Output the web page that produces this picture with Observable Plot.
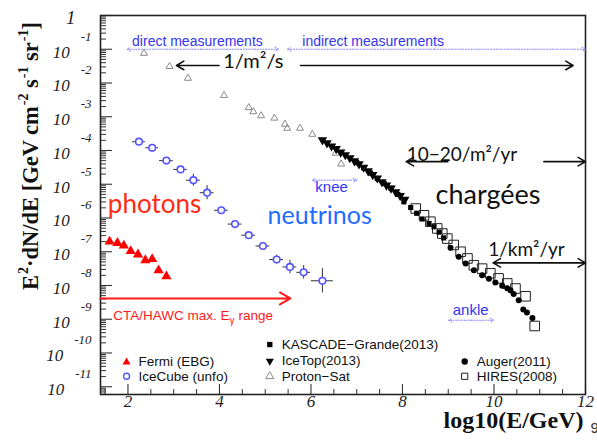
<!DOCTYPE html>
<html><head><meta charset="utf-8">
<script src="https://cdn.jsdelivr.net/npm/d3@7"></script>
<script src="https://cdn.jsdelivr.net/npm/@observablehq/plot@0.6"></script>
<style>html,body{margin:0;padding:0;background:#fff;} svg{display:block}</style>
</head><body><div id="chart"></div>
<script>
// ---- data (x = log10(E/GeV), y = log10 of E^2 dN/dE) ----
const fermiX = [1.60, 1.77, 1.91, 2.06, 2.22, 2.38, 2.53, 2.67, 2.84];
const fermiLogY = [-6.70, -6.74, -6.82, -6.98, -7.08, -7.25, -7.22, -7.55, -7.73];

const iceCubeX = [2.24, 2.53, 2.84, 3.15, 3.43, 3.73, 4.04, 4.34, 4.64, 4.95, 5.25, 5.54, 5.84, 6.25];
const iceCubeLogY = [-3.74, -3.92, -4.30, -4.56, -4.88, -5.25, -5.77, -6.18, -6.51, -6.83, -7.23, -7.45, -7.61, -7.86];
const iceCubeXErr = [0.14, 0.14, 0.15, 0.15, 0.15, 0.15, 0.15, 0.15, 0.15, 0.15, 0.15, 0.15, 0.15, 0.24];
const iceCubeYErr = [0, 0, 0, 0, 0.18, 0.21, 0, 0, 0, 0, 0.13, 0.20, 0.20, 0.36];

const protonX = [2.35, 2.91, 3.31, 4.10, 4.64, 4.74, 4.91, 5.20, 5.43, 5.48, 5.76, 6.03, 6.54, 6.66];
const protonLogY = [-1.12, -1.51, -1.86, -2.37, -2.73, -2.85, -2.97, -3.04, -3.22, -3.34, -3.34, -3.52, -4.08, -4.40];

const iceTopX = [6.25, 6.35, 6.45, 6.55, 6.65, 6.75, 6.85, 6.95, 7.05, 7.15, 7.25, 7.35, 7.45, 7.55, 7.65, 7.75, 7.85, 7.95, 8.05];
const iceTopLogY = [-3.69, -3.78, -3.87, -3.95, -4.05, -4.13, -4.22, -4.31, -4.40, -4.50, -4.61, -4.72, -4.82, -4.93, -5.03, -5.12, -5.23, -5.34, -5.45];

const kascadeX = [7.00, 7.15, 7.30, 7.45, 7.60, 7.75, 7.90, 8.03, 8.18, 8.31, 8.43, 8.58, 8.69, 8.80, 8.90];
const kascadeLogY = [-4.36, -4.51, -4.67, -4.83, -4.98, -5.12, -5.30, -5.52, -5.69, -5.86, -6.03, -6.16, -6.26, -6.42, -6.59];

const augerX = [9.05, 9.23, 9.38, 9.56, 9.74, 9.89, 10.03, 10.18, 10.29, 10.36, 10.43, 10.54, 10.64, 10.72, 10.84];
const augerLogY = [-6.88, -7.15, -7.35, -7.55, -7.70, -7.80, -7.91, -8.01, -8.08, -8.14, -8.25, -8.44, -8.71, -8.80, -8.96];

const hiresX = [8.29, 8.47, 8.61, 8.76, 8.87, 8.98, 9.12, 9.27, 9.42, 9.56, 9.74, 9.92, 10.10, 10.29, 10.47, 10.69, 10.89];
const hiresLogY = [-5.72, -5.92, -6.11, -6.31, -6.46, -6.61, -6.80, -7.00, -7.20, -7.40, -7.50, -7.64, -7.79, -7.94, -8.09, -8.32, -9.20];

const xTickValues = [2, 4, 6, 8, 10, 12];
const xTickLabels = ["2", "4", "6", "8", "10", "12"];
const yTickExponents = [-1, -2, -3, -4, -5, -6, -7, -8, -9, -10, -11];

const legendLabels = ["Fermi (EBG)", "IceCube (unfo)", "KASCADE\u2212Grande(2013)", "IceTop(2013)", "Proton\u2212Sat", "Auger(2011)", "HIRES(2008)"];

// ---- helpers ----
const toPts = (xs, ls) => xs.map((x, i) => ({x, y: Math.pow(10, ls[i])}));
const fermi = toPts(fermiX, fermiLogY);
const proton = toPts(protonX, protonLogY);
const iceTop = toPts(iceTopX, iceTopLogY);
const kascade = toPts(kascadeX, kascadeLogY);
const auger = toPts(augerX, augerLogY);
const hires = toPts(hiresX, hiresLogY);
const iceCube = iceCubeX.map((x, i) => ({
  x, y: Math.pow(10, iceCubeLogY[i]),
  x1: x - iceCubeXErr[i], x2: x + iceCubeXErr[i],
  y1: Math.pow(10, iceCubeLogY[i] - iceCubeYErr[i]), y2: Math.pow(10, iceCubeLogY[i] + iceCubeYErr[i]),
  ye: iceCubeYErr[i]
}));

const triDown = {
  draw(ctx, size) {
    const s3 = Math.sqrt(3);
    const y = -Math.sqrt(size / (s3 * 3));
    ctx.moveTo(0, -2 * y);
    ctx.lineTo(-s3 * y, y);
    ctx.lineTo(s3 * y, y);
    ctx.closePath();
  }
};

const W = 597, H = 440, mL = 100, mR = 12, mT = 15, mB = 46;
const fw = W - mL - mR, fh = H - mT - mB;
const L = (v) => Math.pow(10, v);

const yMajor = [0, ...yTickExponents].map(L);
const yMinor = [];
for (let e = -12; e < 0; e++) for (let m = 2; m <= 9; m++) {
  const v = m * Math.pow(10, e);
  if (v > L(-11.23) && v < 1) yMinor.push(v);
}
const xMinor = d3.range(1.5, 12, 0.5).filter(v => !xTickValues.includes(v));

const serif = "Liberation Serif";
const sans = "Liberation Sans";
const gill = "Lato";
const blue = "#3434f2", dotBlue = "#8585ff";

const dottedArrows = [
  {x1: 3.6, x2: 1.98, y: L(-1.0)}, {x1: 3.6, x2: 5.29, y: L(-1.0)},
  {x1: 8.7, x2: 5.49, y: L(-1.0)}, {x1: 8.7, x2: 12.0, y: L(-1.0)},
  {x1: 6.5, x2: 6.03, y: L(-4.88)}, {x1: 6.5, x2: 7.0, y: L(-4.88)},
  {x1: 9.5, x2: 9.01, y: L(-9.03)}, {x1: 9.5, x2: 9.99, y: L(-9.03)}
];
const blackArrows = [
  {x1: 3.99, x2: 3.06, y: L(-1.48)}, {x1: 5.77, x2: 11.73, y: L(-1.48)},
  {x1: 8.99, x2: 8.08, y: L(-4.33)}, {x1: 11.09, x2: 12.0, y: L(-4.33)},
  {x1: 11.0, x2: 9.98, y: L(-7.33)}, {x1: 11.0, x2: 12.0, y: L(-7.33)}
];

// legend placement (data coordinates)
const legCol = [1.97, 1.97, 5.10, 5.10, 5.10, 9.36, 9.36];
const legRow = [-10.27, -10.69, -9.75, -10.24, -10.69, -10.25, -10.69];
const leg = legendLabels.map((t, i) => ({t, x: legCol[i], y: L(legRow[i])}));

const plot = Plot.plot({
  width: W, height: H,
  marginLeft: mL, marginRight: mR, marginTop: mT, marginBottom: mB,
  x: {domain: [1.4, 12], axis: null},
  y: {type: "log", domain: [L(-11.23), 1], axis: null},
  style: {background: "#fff", fontFamily: sans, overflow: "visible"},
  marks: [
    // ticks
    Plot.tickY(yMajor, {y: d => d, insetRight: fw - 12, stroke: "#333", strokeWidth: 1.1}),
    Plot.tickY(yMinor, {y: d => d, insetRight: fw - 6, stroke: "#333", strokeWidth: 1}),
    Plot.tickX(xTickValues, {x: d => d, insetTop: fh - 10, stroke: "#333", strokeWidth: 1.1}),
    Plot.tickX(xMinor, {x: d => d, insetTop: fh - 5, stroke: "#333", strokeWidth: 1}),
    Plot.frame({stroke: "#222", strokeWidth: 1.6}),
    // tick labels
    Plot.text(yTickExponents, {y: e => L(e), text: e => `10^{${e}}`, frameAnchor: "left", textAnchor: "end", dx: -9, dy: 3,
      fontFamily: serif, fontStyle: "italic", fontSize: 17, fill: "#222"}),
    Plot.text(["1"], {y: () => 1, text: d => d, frameAnchor: "left", textAnchor: "end", dx: -25, dy: 2,
      fontFamily: serif, fontStyle: "italic", fontSize: 19, fill: "#222"}),
    Plot.text(xTickValues, {x: d => d, text: (d, i) => xTickLabels[i], frameAnchor: "bottom", dy: 12,
      fontFamily: serif, fontStyle: "italic", fontSize: 17, fill: "#222"}),
    // axis titles
    Plot.text(["E^{2}\u00b7dN/dE [GeV cm^{-2} s^{-1} sr^{-1}]"], {frameAnchor: "left", textAnchor: "middle", dx: -70, dy: -49, rotate: -90,
      fontFamily: serif, fontWeight: "bold", fontSize: 22.5, fill: "#111"}),
    Plot.text(["log10(E/GeV)"], {frameAnchor: "bottom-right", textAnchor: "end", dx: -2, dy: 33,
      fontFamily: serif, fontWeight: "bold", fontSize: 24, fill: "#111"}),
    Plot.text(["9"], {frameAnchor: "bottom-right", textAnchor: "start", dx: 5, dy: 38, fontSize: 15, fill: "#333"}),
    // annotation arrows
    Plot.arrow(dottedArrows, {x1: "x1", x2: "x2", y1: "y", y2: "y", bend: 0, headLength: 6, stroke: dotBlue, strokeWidth: 1, strokeDasharray: "1.2,1.6"}),
    Plot.arrow(blackArrows, {x1: "x1", x2: "x2", y1: "y", y2: "y", bend: 0, headLength: 8, stroke: "#111", strokeWidth: 1.6}),
    Plot.arrow([{x1: 1.4, x2: 5.55, y: L(-8.385)}], {x1: "x1", x2: "x2", y1: "y", y2: "y", bend: 0, headLength: 9, stroke: "#ff1a1a", strokeWidth: 2}),
    // annotation texts
    Plot.text(["direct measurements"], {x: 2.09, y: L(-0.77), text: d => d, textAnchor: "start", fontSize: 14, fill: blue}),
    Plot.text(["indirect measurements"], {x: 5.81, y: L(-0.77), text: d => d, textAnchor: "start", fontSize: 14, fill: blue}),
    Plot.text(["1/m\u00b2/s"], {x: 4.74, y: L(-1.365), text: d => d, fontFamily: gill, fontSize: 20, fill: "#111"}),
    Plot.text(["10\u221220/m\u00b2/yr"], {x: 9.30, y: L(-4.13), text: d => d, fontFamily: gill, fontSize: 19, fill: "#111"}),
    Plot.text(["chargées"], {x: 9.87, y: L(-5.32), text: d => d, fontFamily: gill, fontSize: 27, fill: "#111"}),
    Plot.text(["knee"], {x: 6.45, y: L(-5.09), text: d => d, fontSize: 15, fill: blue}),
    Plot.text(["neutrinos"], {x: 6.19, y: L(-5.94), text: d => d, fontFamily: gill, fontSize: 25, fill: "#1f6cff"}),
    Plot.text(["photons"], {x: 2.58, y: L(-5.62), text: d => d, fontFamily: gill, fontSize: 26, fill: "#ff2a14"}),
    Plot.text(["1/km\u00b2/yr"], {x: 10.71, y: L(-6.95), text: d => d, fontFamily: gill, fontSize: 19, fill: "#111"}),
    Plot.text(["ankle"], {x: 9.49, y: L(-8.73), text: d => d, fontSize: 15, fill: blue}),
    Plot.text(["CTA/HAWC max. E_{\u03b3} range"], {x: 1.68, y: L(-8.88), text: d => d, textAnchor: "start", fontSize: 13.5, fill: "#ff1a1a"}),
    // data
    Plot.dot(proton, {x: "x", y: "y", symbol: "triangle", r: 2.6, stroke: "#8a8a8a", strokeWidth: 1, fill: "none"}),
    Plot.ruleY(iceCube, {y: "y", x1: "x1", x2: "x2", stroke: "#333", strokeWidth: 1}),
    Plot.ruleX(iceCube.filter(d => d.ye > 0), {x: "x", y1: "y1", y2: "y2", stroke: "#333", strokeWidth: 1}),
    Plot.dot(iceCube, {x: "x", y: "y", r: 3.3, stroke: "#5555ff", strokeWidth: 1.6, fill: "#fff"}),
    Plot.dot(fermi, {x: "x", y: "y", symbol: "triangle", r: 3.8, fill: "#ff0000", stroke: "none"}),
    Plot.dot(hires, {x: "x", y: "y", symbol: "square", r: 5.4, stroke: "#222", strokeWidth: 1, fill: "none"}),
    Plot.dot(iceTop, {x: "x", y: "y", symbol: triDown, r: 3.5, fill: "#000", stroke: "none"}),
    Plot.dot(kascade, {x: "x", y: "y", symbol: "square", r: 2.9, fill: "#000", stroke: "none"}),
    Plot.dot(auger, {x: "x", y: "y", r: 3, fill: "#000", stroke: "none"}),
    // legend
    Plot.dot([leg[0]], {x: "x", y: "y", symbol: "triangle", r: 3, fill: "#ff0000", stroke: "none"}),
    Plot.dot([leg[1]], {x: "x", y: "y", r: 3, stroke: "#5555ff", strokeWidth: 1.4, fill: "#fff"}),
    Plot.dot([leg[2]], {x: "x", y: "y", symbol: "square", r: 3, fill: "#000", stroke: "none"}),
    Plot.dot([leg[3]], {x: "x", y: "y", symbol: triDown, r: 3, fill: "#000", stroke: "none"}),
    Plot.dot([leg[4]], {x: "x", y: "y", symbol: "triangle", r: 3, stroke: "#8a8a8a", strokeWidth: 1, fill: "none"}),
    Plot.dot([leg[5]], {x: "x", y: "y", r: 3.2, fill: "#000", stroke: "none"}),
    Plot.dot([leg[6]], {x: "x", y: "y", symbol: "square", r: 3.5, stroke: "#222", strokeWidth: 1, fill: "none"}),
    Plot.text(leg, {x: "x", y: "y", text: "t", textAnchor: "start", dx: 12, fontSize: 13.5, fill: "#111"})
  ]
});

document.getElementById("chart").appendChild(plot);

// rich text: ^{...} superscript, _{...} subscript
d3.select(plot).selectAll("text").each(function () {
  const raw = this.textContent;
  if (!/[\^_]\{/.test(raw)) return;
  const isTick = /^10\^\{/.test(raw);
  const fs = parseFloat(getComputedStyle(this).fontSize) || 14;
  const parts = [];
  const re = /([\^_])\{([^}]*)\}/g;
  let last = 0, m;
  while ((m = re.exec(raw))) {
    if (m.index > last) parts.push({t: raw.slice(last, m.index), s: 0});
    parts.push({t: m[2], s: m[1] === "^" ? 1 : -1});
    last = re.lastIndex;
  }
  if (last < raw.length) parts.push({t: raw.slice(last), s: 0});
  const sel = d3.select(this);
  sel.text(null);
  let cur = 0;
  for (const p of parts) {
    let shift = 0, size = null, dx = 0;
    if (p.s === 1) { shift = isTick ? -17 : -0.45 * fs; size = isTick ? 13 : 0.62 * fs; dx = isTick ? 11 : 1; }
    else if (p.s === -1) { shift = 0.3 * fs; size = 0.75 * fs; }
    const ts = sel.append("tspan").text(p.t);
    if (shift - cur !== 0) ts.attr("dy", shift - cur);
    if (size) ts.attr("font-size", size);
    if (dx) ts.attr("dx", dx);
    cur = shift;
  }
});
</script>
</body></html>
